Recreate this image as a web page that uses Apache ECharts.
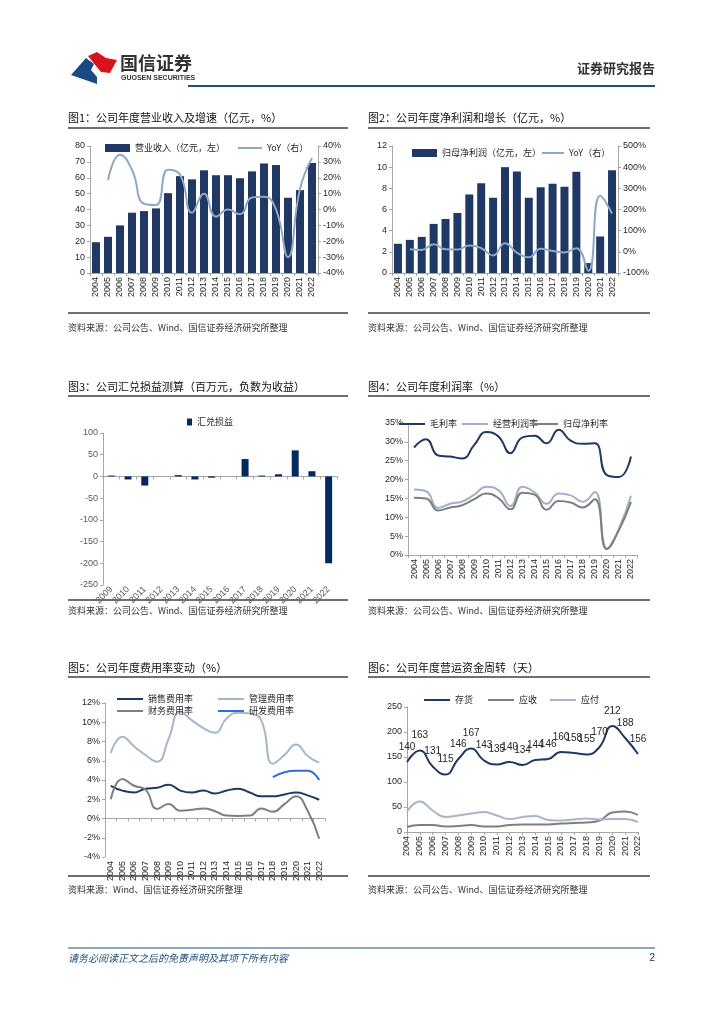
<!DOCTYPE html>
<html><head><meta charset="utf-8">
<script src="https://cdn.jsdelivr.net/npm/echarts@6/dist/echarts.min.js"></script>
<style>html,body{margin:0;padding:0;background:#fff;}#c{width:724px;height:1024px;}</style>
</head><body><div id="c"></div>
<script>
// ---------- DATA ----------
const years = ['2004','2005','2006','2007','2008','2009','2010','2011','2012','2013','2014','2015','2016','2017','2018','2019','2020','2021','2022'];
const revenue = [19.4,22.8,30,38,39,40.7,50.3,61,59,64.7,61.6,61.6,59.7,64,69,68,47.4,52.2,69.3];
const revenueYoY = [null,18.5,34.5,25,3.6,2.8,25,22,-2,10,-4.5,0,-3,7.6,8,0,-30,13,32.5];
const profit = [2.76,3.13,3.41,4.64,5.1,5.67,7.42,8.49,7.11,10.0,9.6,7.11,8.11,8.43,8.15,9.56,0.94,3.45,9.7];
const profitYoY = [null,12,9,36,12,11,30,17,-17,41,-4,-26,14,4,-3,17,-90,265,181];
const fxYears = ['2009','2010','2011','2012','2013','2014','2015','2016','2017','2018','2019','2020','2021','2022'];
const fxGain = [2,-7,-21,0,3,-7,-3,0,40,2,5,60,12,-200];
const grossMargin = [28.5,30.7,26.4,26.1,25.6,29.2,32.6,31.4,27.0,31.2,31.6,29.6,33.2,30.3,29.5,29.6,21.2,20.7,26.1];
const opMargin = [17.4,16.9,12.5,13.6,14.2,16.0,18.1,17.2,13.0,18.1,16.6,13.6,16.3,15.8,14.1,16.7,1.6,7.0,15.7];
const netMargin = [15.2,15.0,11.8,12.6,13.2,14.8,16.3,15.1,12.1,16.5,16.0,12.0,14.3,13.9,12.6,14.8,1.6,6.6,14.1];
const salesRate = [3.4,2.9,2.7,3.1,3.2,3.5,2.9,2.7,2.9,2.6,2.9,3.1,2.7,2.3,2.3,2.5,2.7,2.4,1.95];
const adminRate = [6.8,8.5,7.5,6.6,5.9,8.3,11.1,10.2,9.4,8.9,10.4,11.0,10.9,10.2,5.7,6.6,7.7,6.5,5.8];
const finRate = [2.0,4.1,3.4,3.0,1.0,1.5,0.8,0.9,1.05,0.75,0.3,0.25,0.3,1.05,0.7,1.5,2.3,0.8,-2.1];
const rdRate = [null,null,null,null,null,null,null,null,null,null,null,null,null,null,4.3,4.8,4.95,4.95,4.0];
const inventoryDays = [140,163,131,115,146,167,143,135,140,134,144,146,160,158,155,170,212,188,156];
const receivableDays = [10,14,14,11,12,14,11,11,14,15,15,15,17,18,19,23,39,41,34];
const payableDays = [41,61,43,30,33,37,40,33,26,30,32,24,23,25,27,25,26,26,20];

// ---------- STYLE ----------
const NAVY = '#1f3864', LIGHT = '#9fb2c7', GRAY = '#7f7f7f', BLUE = '#2f6ed8';
const AX = '#a6a6a6', TXT = '#262626';
const FONT = '"Liberation Sans","Noto Sans CJK SC",sans-serif';
const CJK = '"Noto Sans CJK SC",sans-serif';

function xCat(grid, data, opts) {
  opts = opts || {};
  return {
    type:'category', gridIndex:grid, data:data, boundaryGap: opts.boundaryGap !== false,
    axisLine:{show:true, onZero: opts.onZero !== false, lineStyle:{color:AX,width:1}},
    axisTick:{show:true, length:3, lineStyle:{color:AX}},
    axisLabel:{interval:0, rotate: opts.rotate || 90, fontSize:9, color: opts.color || TXT, margin: opts.margin || 4, fontFamily:FONT},
    splitLine:{show:false}
  };
}
function yVal(grid, min, max, interval, fmt, pos, color) {
  return {
    type:'value', gridIndex:grid, min:min, max:max, interval:interval, position: pos || 'left',
    axisLine:{show:true, lineStyle:{color:AX,width:1}},
    axisTick:{show:true, length:3, lineStyle:{color:AX}},
    axisLabel:{fontSize:9, color: color || TXT, margin:5, fontFamily:FONT, formatter: fmt || '{value}'},
    splitLine:{show:false}
  };
}
function leg(name, left, cy, icon, w, h) {
  return {
    data:[{name:name, icon: icon || 'rect'}], left:left, top:cy-7, padding:0, itemWidth:w, itemHeight:h || 2,
    itemGap:0, textStyle:{fontSize:9, color:TXT, fontFamily:CJK, lineHeight:14}, selectedMode:false
  };
}
function lineS(name, x, y, data, color, extra) {
  return Object.assign({
    name:name, type:'line', xAxisIndex:x, yAxisIndex:y, data:data, smooth:0.5, symbol:'none',
    lineStyle:{color:color, width:2}, itemStyle:{color:color}, connectNulls:false
  }, extra || {});
}

// page graphics
const g = [];
function txt(t, x, y, size, color, extra) {
  g.push(Object.assign({type:'text', silent:true, style:Object.assign({text:t, x:x, y:y, fill:color||'#1a1a1a',
    font: size + 'px ' + CJK, textVerticalAlign:'middle', verticalAlign:'middle'}, extra||{})}));
}
function hline(x1, x2, y, color, w) {
  g.push({type:'line', silent:true, shape:{x1:x1,y1:y,x2:x2,y2:y}, style:{stroke:color, lineWidth:w}});
}
// header
g.push({type:'polygon', silent:true, shape:{points:[[71,75],[86,58],[94,64],[91,70],[97,77],[97,84]]}, style:{fill:'#1a4a86'}});
g.push({type:'polygon', silent:true, shape:{points:[[88,56],[97,52],[106,58],[117,60],[110,73],[101,72],[96,66]]}, style:{fill:'#d7141e'}});
txt('国信证券', 120, 63, 18, '#333333', {font:'bold 18px ' + CJK});
txt('GUOSEN SECURITIES', 121, 78, 7, '#333333', {font:'bold 7px ' + FONT});
txt('证券研究报告', 655, 68, 13, '#333333', {font:'bold 13px ' + CJK, textAlign:'right', align:'right'});
hline(188, 655, 86, '#1f4e79', 2);
// titles
const titles = [
  ['图1：公司年度营业收入及增速（亿元，%）', 68, 118],
  ['图2：公司年度净利润和增长（亿元，%）', 368, 118],
  ['图3：公司汇兑损益测算（百万元，负数为收益）', 68, 387],
  ['图4：公司年度利润率（%）', 368, 387],
  ['图5：公司年度费用率变动（%）', 68, 668],
  ['图6：公司年度营运资金周转（天）', 368, 668]
];
titles.forEach(t => txt(t[0], t[1], t[2], 11, '#111'));
[128, 396, 677].forEach(y => { hline(68, 348, y, '#404040', 1.5); hline(368, 650, y, '#404040', 1.5); });
[313, 600, 876].forEach(y => { hline(68, 348, y, '#404040', 1.5); hline(368, 650, y, '#404040', 1.5); });
const src = '资料来源：公司公告、Wind、国信证券经济研究所整理';
txt(src, 68, 328, 9, '#333'); txt(src, 368, 328, 9, '#333');
txt(src, 68, 611, 9, '#333'); txt(src, 368, 611, 9, '#333');
txt('资料来源：Wind、国信证券经济研究所整理', 68, 890, 9, '#333'); txt(src, 368, 890, 9, '#333');
// footer
hline(68, 655, 948, '#1f4e79', 1);
txt('请务必阅读正文之后的免责声明及其项下所有内容', 68, 958, 10, '#1f4e79', {font:'italic 10px ' + CJK});
txt('2', 655, 958, 10, '#333', {font:'10px ' + FONT, textAlign:'right', align:'right'});

const pct = '{value}%';
const option = {
  animation:false,
  backgroundColor:'#fff',
  textStyle:{fontFamily:FONT},
  grid:[
    {left:90, top:146, width:228, height:127},
    {left:392, top:146, width:226, height:127},
    {left:103, top:433, width:234, height:152},
    {left:408, top:423, width:229, height:132},
    {left:105, top:703, width:220, height:154},
    {left:407, top:707, width:231, height:125}
  ],
  xAxis:[
    xCat(0, years, {onZero:false}),
    xCat(1, years, {onZero:false}),
    xCat(2, fxYears, {rotate:45, color:'#595959', margin:3}),
    xCat(3, years),
    xCat(4, years),
    xCat(5, years, {boundaryGap:false})
  ],
  yAxis:[
    yVal(0, 0, 80, 10),
    yVal(0, -40, 40, 10, pct, 'right'),
    yVal(1, 0, 12, 2),
    yVal(1, -100, 500, 100, pct, 'right'),
    yVal(2, -250, 100, 50, null, 'left', '#595959'),
    yVal(3, 0, 35, 5, pct),
    yVal(4, -4, 12, 2, pct),
    yVal(5, 0, 250, 50)
  ],
  legend:[
    leg('营业收入（亿元，左）', 105, 148, 'rect', 25, 8),
    leg('YoY（右）', 238, 148, 'rect', 24),
    leg('归母净利润（亿元，左）', 412, 153, 'rect', 25, 8),
    leg('YoY（右） ', 542, 153, 'rect', 22),
    leg('汇兑损益', 187, 422, 'rect', 5, 7),
    leg('毛利率', 399, 424, 'rect', 26),
    leg('经营利润率', 462, 424, 'rect', 26),
    leg('归母净利率', 532, 424, 'rect', 26),
    leg('销售费用率', 117, 699, 'rect', 26),
    leg('管理费用率', 218, 699, 'rect', 26),
    leg('财务费用率', 117, 711, 'rect', 26),
    leg('研发费用率', 218, 711, 'rect', 26),
    leg('存货', 424, 700, 'rect', 26),
    leg('应收', 488, 700, 'rect', 26),
    leg('应付', 550, 700, 'rect', 26)
  ],
  series:[
    {name:'营业收入（亿元，左）', type:'bar', xAxisIndex:0, yAxisIndex:0, data:revenue, barWidth:8, itemStyle:{color:NAVY}},
    lineS('YoY（右）', 0, 1, revenueYoY, '#8ea9c1'),
    {name:'归母净利润（亿元，左）', type:'bar', xAxisIndex:1, yAxisIndex:2, data:profit, barWidth:8, itemStyle:{color:NAVY}},
    lineS('YoY（右） ', 1, 3, profitYoY, '#8ea9c1'),
    {name:'汇兑损益', type:'bar', xAxisIndex:2, yAxisIndex:4, data:fxGain, barWidth:7, itemStyle:{color:'#002b5c'}},
    lineS('毛利率', 3, 5, grossMargin, NAVY),
    lineS('经营利润率', 3, 5, opMargin, LIGHT),
    lineS('归母净利率', 3, 5, netMargin, GRAY),
    lineS('销售费用率', 4, 6, salesRate, NAVY),
    lineS('管理费用率', 4, 6, adminRate, '#a5b6ca'),
    lineS('财务费用率', 4, 6, finRate, GRAY),
    lineS('研发费用率', 4, 6, rdRate, BLUE),
    lineS('存货', 5, 7, inventoryDays, NAVY, {symbol:'circle', symbolSize:0.01, showSymbol:true,
      label:{show:true, position:'top', distance:10, fontSize:10, color:'#262626', fontFamily:FONT}}),
    lineS('应收', 5, 7, receivableDays, GRAY),
    lineS('应付', 5, 7, payableDays, '#a5b6ca')
  ],
  graphic:g
};
const chart = echarts.init(document.getElementById('c'), null, {renderer:'canvas'});
chart.setOption(option);
</script></body></html>
